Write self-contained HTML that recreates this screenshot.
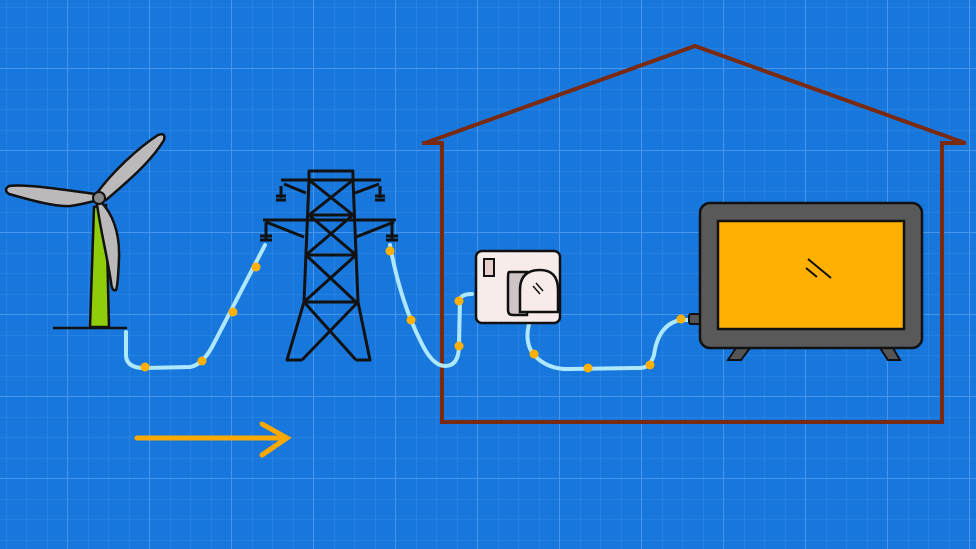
<!DOCTYPE html>
<html><head><meta charset="utf-8"><style>
html,body{margin:0;padding:0;background:#1877dc;}
svg{display:block}
</style></head><body>
<svg width="976" height="549" viewBox="0 0 976 549" xmlns="http://www.w3.org/2000/svg">
<defs>
<pattern id="minor" x="-14" y="-13" width="20.5" height="20.5" patternUnits="userSpaceOnUse">
<path d="M20.5 0V20.5M0 20.5H20.5" stroke="#3489e4" stroke-width="1" fill="none"/>
</pattern>
<pattern id="major" x="-14" y="-13" width="82" height="82" patternUnits="userSpaceOnUse">
<path d="M82 0V82M0 82H82" stroke="#4896ea" stroke-width="2" fill="none"/>
</pattern>
</defs>
<rect width="976" height="549" fill="#1877dc"/>
<rect width="976" height="549" fill="url(#minor)"/>
<rect width="976" height="549" fill="url(#major)"/>

<!-- house -->
<path d="M425 143 L695 46 L965 143" stroke="#7a2a10" stroke-width="4" fill="none"/>
<path d="M422 143 H442 V422 H942 V143 H966" stroke="#7a2a10" stroke-width="4" fill="none"/>

<!-- wind turbine -->
<line x1="53" y1="328" x2="127" y2="328" stroke="#111" stroke-width="2.5"/>
<path d="M94 207 L106 205 L109 327 L90 327 Z" fill="#8fcc0a" stroke="#111" stroke-width="2.5"/>
<path d="M95 194 C60,189 25,184 9,186 Q3,190 9,194 C30,200 55,207 70,206 C85,204 92,201 96,201 Z" fill="#bcb9bb" stroke="#111" stroke-width="2.5"/>
<path d="M97 193 C110,175 135,150 158,135 Q166,132 164,140 C152,160 132,178 106,200 Z" fill="#bcb9bb" stroke="#111" stroke-width="2.5"/>
<path d="M101 202 C112,213 120,232 119,258 Q118,285 116,290 Q112,292 111,282 C107,255 100,228 97,204 Z" fill="#bcb9bb" stroke="#111" stroke-width="2.5"/>
<circle cx="99" cy="198" r="6" fill="#888" stroke="#111" stroke-width="2"/>

<!-- pylon -->
<g stroke="#111" stroke-width="3" fill="none" stroke-linejoin="round">
<path d="M309 171 H353 V180 H309 Z"/>
<path d="M281 180 H381 M263 220 H396"/>
<path d="M309 180 L304 302 L287 360 H302 M353 180 L358 302 L370 360 H356"/>
<path d="M304 302 H358"/>
<path d="M309 180 L353 215 L306 255 L356 302 M353 180 L309 215 L356 255 L304 302"/>
<path d="M309 215 H353 M306 255 H356"/>
<path d="M304 302 L356 360 M358 302 L302 360"/>
<path d="M284 184 L306 193 M379 184 L355 193 M266 222 L304 237 M394 222 L356 237"/>
<path d="M281 186 V198 M276 196 H286 M276 200 H286 M380 186 V198 M375 196 H385 M375 200 H385"/>
<path d="M266 222 V240 M260 236 H272 M260 240 H272 M392 222 V240 M386 236 H398 M386 240 H398"/>
</g>

<!-- cables -->
<g stroke="#aee8ff" stroke-width="4" fill="none" stroke-linecap="round">
<path d="M126 332 V355 Q126 368 145 368 L190 367 Q202 365 212 347 L265 245"/>
<path d="M390 245 Q400 300 420 340 Q432 366 445 366 Q459 366 459 345 L460 300 Q461 294 472 294"/>
<path d="M532 315 Q522 340 534 355 Q548 370 570 369 L640 368 Q650 368 654 355 Q658 325 680 320 L692 320"/>
</g>
<g fill="#ffb000">
<circle cx="145" cy="367" r="4.5"/><circle cx="202" cy="361" r="4.5"/><circle cx="233" cy="312" r="4.5"/><circle cx="256" cy="267" r="4.5"/>
<circle cx="390" cy="251" r="4.5"/><circle cx="411" cy="320" r="4.5"/><circle cx="459" cy="346" r="4.5"/><circle cx="459" cy="301" r="4.5"/>
<circle cx="534" cy="354" r="4.5"/><circle cx="588" cy="368" r="4.5"/><circle cx="650" cy="365" r="4.5"/><circle cx="681" cy="319" r="4.5"/>
</g>

<!-- socket -->
<rect x="476" y="251" width="84" height="72" rx="6" fill="#f7ecea" stroke="#111" stroke-width="2.5"/>
<rect x="484" y="259" width="10" height="17" fill="#e6cfca" stroke="#111" stroke-width="2"/>
<path d="M527 272 H509 Q508 272 508 280 V310 Q508 315 513 315 H527 Z" fill="#cfc5c6" stroke="#111" stroke-width="2.5"/>
<path d="M520 312 V290 Q520 270 540 270 Q558 270 558 290 V312 Z" fill="#f7ecea" stroke="#111" stroke-width="2.5"/>
<path d="M533 286 L540 294 M536 283 L543 291" stroke="#111" stroke-width="1.5"/>

<!-- TV -->
<rect x="689" y="314" width="14" height="10" rx="2" fill="#555" stroke="#111" stroke-width="2"/>
<path d="M736 348 L728 360 H741 L750 348 Z M880 348 L888 360 H900 L893 348 Z" fill="#555" stroke="#111" stroke-width="2"/>
<rect x="700" y="203" width="222" height="145" rx="10" fill="#595959" stroke="#111" stroke-width="2.5"/>
<rect x="718" y="221" width="186" height="108" fill="#ffb000" stroke="#111" stroke-width="2.5"/>
<path d="M808 259 L831 278 M806 268 L817 277" stroke="#111" stroke-width="2"/>

<!-- arrow -->
<g stroke="#f9a800" stroke-width="5" stroke-linecap="round" fill="none">
<path d="M137 438 H286"/><path d="M262 424 L287 438 L262 455"/>
</g>
</svg>
</body></html>
